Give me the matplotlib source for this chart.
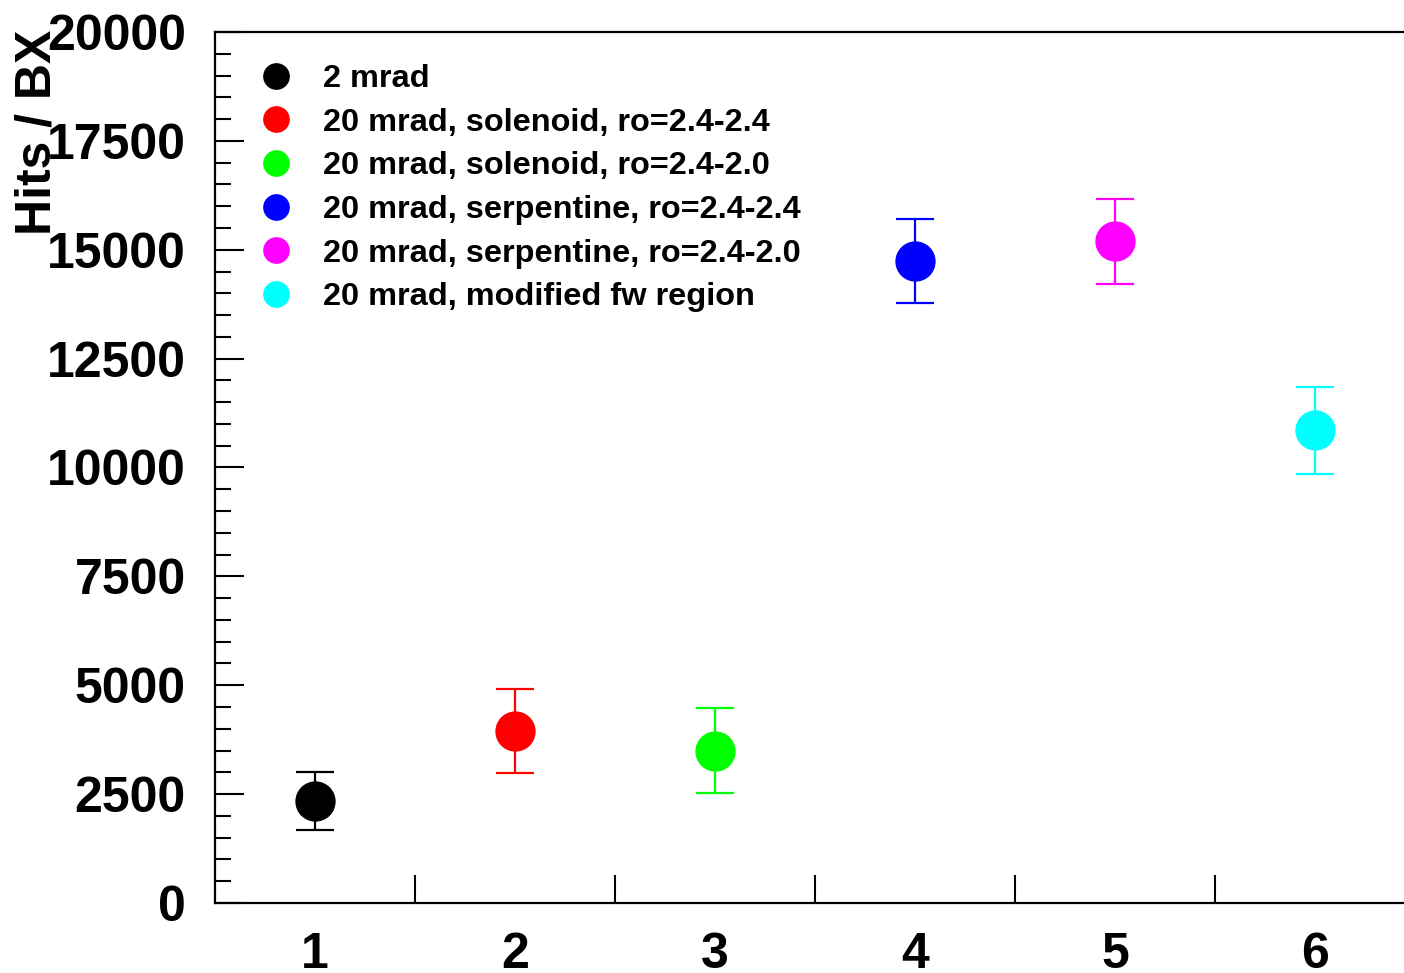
import matplotlib
matplotlib.use("Agg")
import matplotlib.pyplot as plt
import numpy as np

# hits per bunch crossing for each crossing-angle configuration
configs = [
    "2 mrad",
    "20 mrad, solenoid, ro=2.4-2.4",
    "20 mrad, solenoid, ro=2.4-2.0",
    "20 mrad, serpentine, ro=2.4-2.4",
    "20 mrad, serpentine, ro=2.4-2.0",
    "20 mrad, modified fw region",
]
positions = [1, 2, 3, 4, 5, 6]
hits = [2340, 3950, 3500, 14740, 15190, 10850]
hits_err = [670, 970, 980, 970, 980, 990]
colors = ["#000000", "#ff0000", "#00ff00", "#0000ff", "#ff00ff", "#00ffff"]

plt.rcParams["font.family"] = ["Liberation Sans", "DejaVu Sans"]

W, H = 1404, 973
fig = plt.figure(figsize=(W / 100, H / 100), dpi=100)
ax = fig.add_axes([215 / W, 70 / H, 1200 / W, 871 / H])

handles = []
for xpos, y, e, c in zip(positions, hits, hits_err, colors):
    eb = ax.errorbar([xpos], [y], yerr=[e], fmt="o", color=c, ecolor=c,
                     markersize=28, elinewidth=1.6, capsize=13.5,
                     capthick=1.6)
    handles.append(eb[0])  # marker only for the legend

ax.set_xlim(0.5, 6.5)
ax.set_ylim(0, 20000)

ax.set_xticks(positions)
ax.set_xticklabels([str(p) for p in positions])
ax.set_xticks(np.arange(1.5, 6.6, 1.0), minor=True)
ax.set_yticks(np.arange(0, 20001, 2500))
ax.set_yticks(np.arange(0, 20001, 500), minor=True)

ax.tick_params(axis="x", which="major", length=0, pad=21, labelsize=36)
ax.tick_params(axis="x", which="minor", direction="in", length=20,
               width=1.5, color="black")
ax.tick_params(axis="y", which="major", direction="in", length=21,
               width=1.5, pad=21, labelsize=36)
ax.tick_params(axis="y", which="minor", direction="in", length=11.5,
               width=1.5)
for lbl in ax.get_xticklabels() + ax.get_yticklabels():
    lbl.set_fontweight("bold")

for s in ax.spines.values():
    s.set_linewidth(1.6)

fig.text(38 / W, 1 - 30 / H, "Hits / BX", rotation=90, ha="center",
         va="top", fontsize=36, fontweight="bold")

ax.legend(handles, configs, loc="upper left",
          bbox_to_anchor=(260 / W, 1 - 64 / H),
          bbox_transform=fig.transFigure, frameon=False, numpoints=1,
          markerscale=0.65, handlelength=1.0, handletextpad=0.95,
          labelspacing=0.42, borderpad=0, borderaxespad=0,
          prop={"size": 23.4, "weight": "bold"})

fig.savefig("out.png", dpi=100)
